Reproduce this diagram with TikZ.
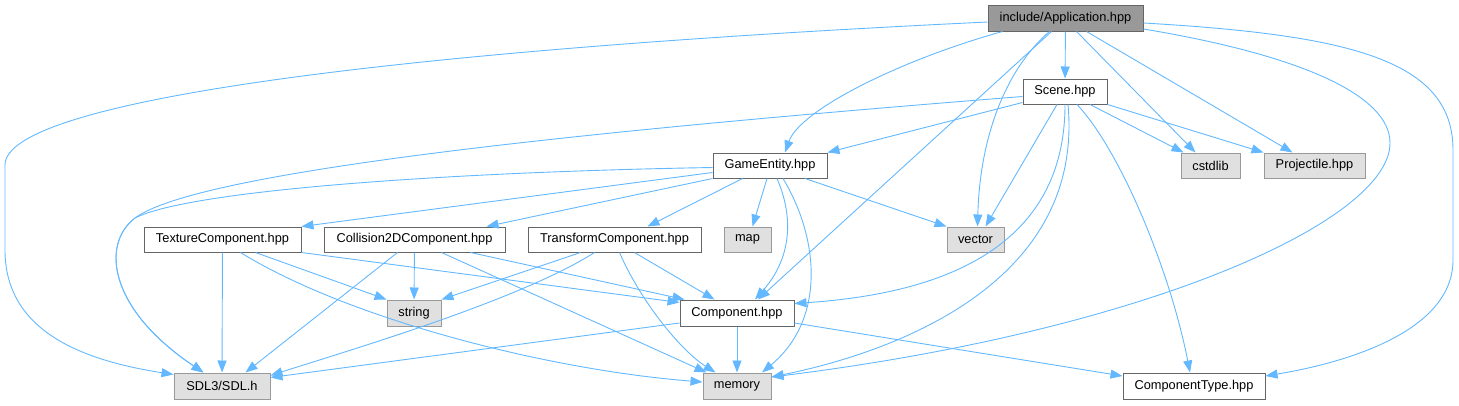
\documentclass[tikz,border=0pt]{standalone}
\usepackage{fontspec}
\setmainfont{Liberation Sans}
\usetikzlibrary{arrows.meta}
\definecolor{edgec}{HTML}{63B8FF}
\definecolor{rimc}{HTML}{666666}
\definecolor{sysrim}{HTML}{999999}
\definecolor{sysfill}{HTML}{E0E0E0}
\definecolor{topfill}{HTML}{999999}
\tikzset{box/.style={rectangle,draw=rimc,line width=1pt,inner sep=0pt,minimum height=25pt,
    font=\fontsize{12.8}{15}\selectfont,text=black},
  hdr/.style={box,fill=white},
  sys/.style={box,fill=sysfill,draw=sysrim},
  root/.style={box,fill=topfill},
  dep/.style={draw=edgec,line width=0.9pt,-{Triangle[length=12pt,width=9pt]}}}

\begin{document}
\begin{tikzpicture}[x=1pt,y=-1pt]
\useasboundingbox (0,0) rectangle (1459,405);
% headers
\node[root,minimum width=155pt,minimum height=26pt] (app) at (1065.5,18) {include/Application.hpp};
\node[hdr,minimum width=84pt] (scene) at (1065,91.5) {Scene.hpp};
\node[sys,minimum width=59pt] (cstd) at (1210.5,165.5) {cstdlib};
\node[sys,minimum width=101pt] (proj) at (1314.5,165.5) {Projectile.hpp};
\node[hdr,minimum width=114pt] (game) at (770,165.5) {GameEntity.hpp};
\node[hdr,minimum width=157pt] (tex) at (222.5,239.5) {TextureComponent.hpp};
\node[hdr,minimum width=181pt] (coll) at (414.5,239.5) {Collision2DComponent.hpp};
\node[hdr,minimum width=173pt] (trans) at (614.5,239.5) {TransformComponent.hpp};
\node[sys,minimum width=47pt] (mapn) at (747.5,239.5) {map};
\node[sys,minimum width=57pt] (vec) at (975.5,239.5) {vector};
\node[sys,minimum width=54pt,minimum height=26pt] (str) at (414,313) {string};
\node[hdr,minimum width=114pt,minimum height=26pt] (comp) at (737,313) {Component.hpp};
\node[sys,minimum width=96pt,minimum height=26pt] (sdl) at (222,386) {SDL3/SDL.h};
\node[sys,minimum width=68pt,minimum height=26pt] (mem) at (737,386) {memory};
\node[hdr,minimum width=142pt,minimum height=26pt] (ctype) at (1194,386) {ComponentType.hpp};
% Application.hpp
\draw[dep] ([yshift=-4pt]app.west) .. controls (400,50) and (5,100) .. (5,165) -- (5,250)
  .. controls (5,330) and (80,360) .. ([yshift=-2pt]sdl.north west);
\draw[dep] ([xshift=15pt]app.south west) .. controls (900,60) and (800,110) .. ([xshift=15pt]game.north);
\draw[dep] ([xshift=64pt]app.south west) -- ([xshift=21pt]comp.north);
\draw[dep] ([xshift=62pt]app.south west) .. controls (1010,65) and (980,130) .. ([xshift=2pt]vec.north);
\draw[dep] (app) -- (scene);
\draw[dep] ([xshift=89pt]app.south west) -- ([xshift=-15pt]cstd.north);
\draw[dep] ([xshift=99pt]app.south west) -- ([xshift=-22pt]proj.north);
\draw[dep] ([yshift=-11pt]app.east) .. controls (1300,55) and (1390,95) .. (1390,143)
  .. controls (1390,220) and (1150,330) .. ([yshift=9pt]mem.east);
\draw[dep] ([yshift=-5pt]app.east) .. controls (1350,35) and (1453,60) .. (1453,150) -- (1453,260)
  .. controls (1453,330) and (1350,362) .. ([yshift=10pt]ctype.east);
% Scene.hpp
\draw[dep] ([yshift=-11pt]scene.west) -- (game.north east);
\draw[dep] ([yshift=-5pt]scene.west) .. controls (600,130) and (200,170) .. (135,218)
  .. controls (100,245) and (110,310) .. ([xshift=30pt]sdl.north west);
\draw[dep] ([xshift=-8pt]scene.south) -- ([xshift=10pt]vec.north);
\draw[dep] (scene.south) .. controls (1065,260) and (920,295) .. ([yshift=-4pt]comp.north east);
\draw[dep] ([xshift=3pt]scene.south) .. controls (1085,290) and (880,355) .. ([yshift=9pt]mem.east);
\draw[dep] ([xshift=12pt]scene.south) .. controls (1120,150) and (1170,270) .. ([xshift=-4pt]ctype.north);
\draw[dep] ([xshift=25pt]scene.south) -- ([xshift=-27pt]cstd.north);
\draw[dep] (scene.south east) -- (proj.north west);
% GameEntity.hpp
\draw[dep] ([yshift=-2pt]game.west) .. controls (450,172) and (190,190) .. (135,218)
  .. controls (100,245) and (110,310) .. ([xshift=30pt]sdl.north west);
\draw[dep] ([yshift=-7pt]game.west) -- (tex.north east);
\draw[dep] (game.south west) -- ([xshift=72pt]coll.north);
\draw[dep] ([xshift=30pt]game.south west) -- ([xshift=33pt]trans.north);
\draw[dep] ([xshift=-3pt]game.south) -- ([xshift=5pt]mapn.north);
\draw[dep] ([xshift=35pt]game.south) -- (vec.north west);
\draw[dep] ([xshift=7pt]game.south) .. controls (795,220) and (790,260) .. ([xshift=18pt]comp.north);
\draw[dep] ([xshift=13pt]game.south) .. controls (820,240) and (825,320) .. ([xshift=25pt]mem.north);
% components
\draw[dep] (tex) -- (sdl);
\draw[dep] ([xshift=33pt]tex.south) -- (str.north west);
\draw[dep] ([xshift=18pt]tex.south) .. controls (350,320) and (550,370) .. ([yshift=4pt]mem.west);
\draw[dep] (tex.south east) -- ([yshift=-3pt]comp.north west);
\draw[dep] ([xshift=-17pt]coll.south) -- ([xshift=-25pt]sdl.north east);
\draw[dep] (coll) -- (str);
\draw[dep] ([xshift=56pt]coll.south) -- ([xshift=5pt]comp.north west);
\draw[dep] ([xshift=27pt]coll.south) -- ([xshift=4pt]mem.north west);
\draw[dep] ([xshift=-34pt]trans.south) -- (str.north east);
\draw[dep] ([xshift=-20pt]trans.south) .. controls (520,300) and (350,350) .. ([yshift=-3pt]sdl.north east);
\draw[dep] ([xshift=5pt]trans.south) .. controls (640,300) and (680,350) .. ([xshift=13pt]mem.north west);
\draw[dep] ([xshift=20pt]trans.south) -- ([xshift=35pt]comp.north west);
\draw[dep] (comp) -- (mem);
\draw[dep] ([yshift=-10pt]comp.west) -- ([yshift=-5pt]sdl.north east);
\draw[dep] ([yshift=-10pt]comp.east) -- ([yshift=10pt]ctype.west);
\end{tikzpicture}
\end{document}
